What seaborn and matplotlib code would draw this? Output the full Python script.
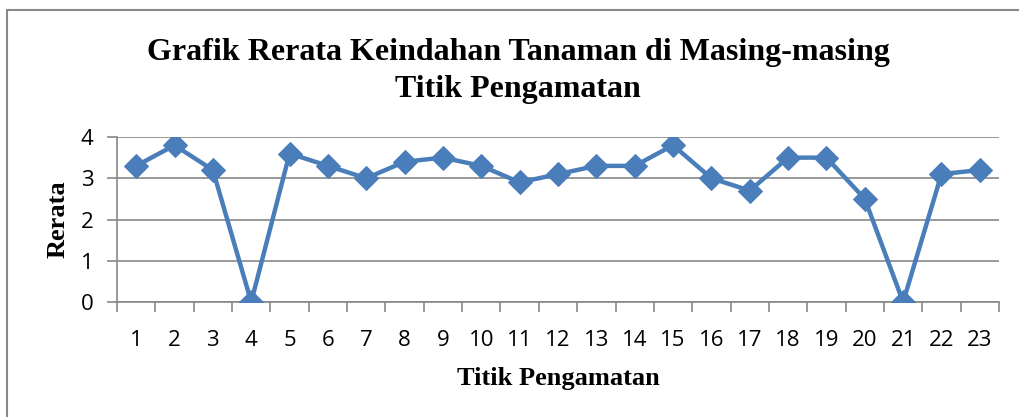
import matplotlib.pyplot as plt
import seaborn as sns
import pandas as pd

# Data
titik = list(range(1, 24))
rerata = [3.3, 3.8, 3.2, 0.0, 3.6, 3.3, 3.0, 3.4, 3.5, 3.3, 2.9, 3.1,
          3.3, 3.3, 3.8, 3.0, 2.7, 3.5, 3.5, 2.5, 0.0, 3.1, 3.2]
y_ticks = [0, 1, 2, 3, 4]

df = pd.DataFrame({'titik': titik, 'rerata': rerata})
df['pos'] = range(len(df))

sns.set_style('white')
plt.rcParams['font.family'] = ['Open Sans', 'DejaVu Sans']
plt.rcParams['text.color'] = 'black'
plt.rcParams['xtick.labelcolor'] = 'black'
plt.rcParams['ytick.labelcolor'] = 'black'
plt.rcParams['axes.labelcolor'] = 'black'

fig = plt.figure(figsize=(10.2, 4.17), dpi=100)
ax = fig.add_axes([117 / 1020, 1 - 302 / 417, 882 / 1020, 165 / 417])

sns.lineplot(data=df, x='pos', y='rerata', ax=ax, color='#4a7ebb',
             linewidth=3.2, marker='D', markersize=12,
             markeredgecolor='#4a7ebb', zorder=3)

grey = '#888888'
ax.set_xlim(-0.5, len(df) - 0.5)
ax.set_ylim(0, 4)
ax.set_yticks(y_ticks)
ax.yaxis.grid(True, color=grey, linewidth=1.2)
ax.set_axisbelow(True)

# category labels centred, tick marks between categories
ax.set_xticks(df['pos'])
ax.set_xticklabels([str(t) for t in titik], fontsize=16)
ax.set_xticks([p - 0.5 for p in range(len(df) + 1)], minor=True)
ax.tick_params(axis='x', which='major', length=0, pad=20)
ax.tick_params(axis='x', which='minor', length=7, width=1.2, color=grey,
               direction='out', bottom=True)
ax.tick_params(axis='y', length=7, width=1.2, color=grey, labelsize=16,
               direction='out', left=True, pad=10)

for s in ['top', 'right']:
    ax.spines[s].set_visible(False)
for s in ['left', 'bottom']:
    ax.spines[s].set_color(grey)
    ax.spines[s].set_linewidth(1.2)

serif = ['Liberation Serif', 'DejaVu Serif']
ax.set_xlabel('Titik Pengamatan', family=serif, fontweight='bold',
              fontsize=19, labelpad=12)
ax.set_ylabel('Rerata', family=serif, fontweight='bold', fontsize=19,
              labelpad=8)
fig.text(518 / 1020, 1 - 71 / 417,
         'Grafik Rerata Keindahan Tanaman di Masing-masing\nTitik Pengamatan',
         family=serif, fontweight='bold', fontsize=23, ha='center',
         va='center', linespacing=1.32)

# chart area border (left and top edges visible in the reference)
fig.add_artist(plt.Line2D([7 / 1020, 7 / 1020], [0, 1 - 10 / 417],
                          color=grey, linewidth=1.5))
fig.add_artist(plt.Line2D([7 / 1020, 1], [1 - 10 / 417, 1 - 10 / 417],
                          color=grey, linewidth=1.5))

fig.savefig('out.png', dpi=100)
